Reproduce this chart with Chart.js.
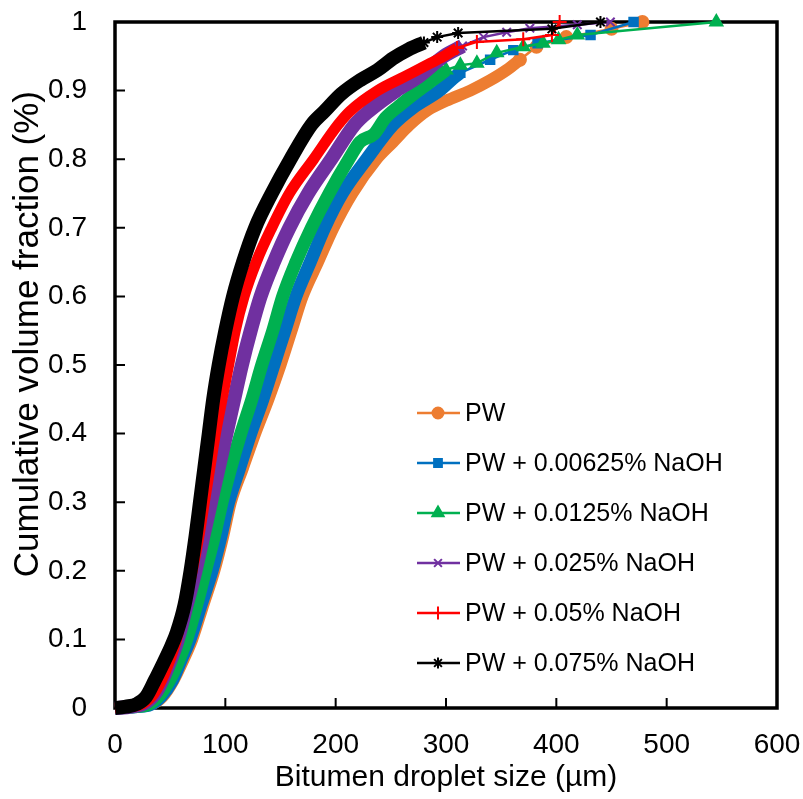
<!DOCTYPE html>
<html lang="en">
<head>
<meta charset="UTF-8">
<title>Cumulative volume fraction vs bitumen droplet size</title>
<script src="https://cdn.jsdelivr.net/npm/chart.js@4"></script>
<style>
    body { margin: 0; background: #fff; }
    #wrap { width: 803px; height: 799px; }
</style>
</head>
<body>
<div id="wrap"><canvas id="chart" width="803" height="799"></canvas></div>
<script>
// series names, in legend order
const seriesNames = ['PW', 'PW + 0.00625% NaOH', 'PW + 0.0125% NaOH', 'PW + 0.025% NaOH', 'PW + 0.05% NaOH', 'PW + 0.075% NaOH'];

// tick labels
const xTickLabels = ['0', '100', '200', '300', '400', '500', '600'];
const yTickLabels = ['0', '0.1', '0.2', '0.3', '0.4', '0.5', '0.6', '0.7', '0.8', '0.9', '1'];

// [droplet size (um), cumulative fraction]
// "band" = the dense part where markers merge, "tail" = the separate markers at the top
const pwBand = [[0,0],[20,0.002],[33,0.005],[43,0.016],[53,0.04],[62,0.07],[70,0.1],[80,0.15],[90,0.2],[98,0.25],[105,0.3],[116,0.35],[127,0.4],[139,0.45],[150,0.5],[160,0.55],[170,0.6],[184,0.65],[198,0.7],[215,0.75],[237,0.8],[252,0.825],[267,0.85],[284,0.872],[300,0.885],[322,0.9],[340,0.915],[355,0.93],[367,0.945]];
const pwTail = [[367,0.945],[382,0.964],[409,0.978],[450,0.99],[478,1]];

const naoh00625Band = [[0,0],[20,0.002],[32,0.005],[42,0.017],[52,0.04],[60,0.07],[68,0.1],[78,0.15],[88,0.2],[96,0.25],[103,0.3],[113,0.35],[123,0.4],[134,0.45],[144,0.5],[154,0.55],[164,0.6],[177,0.65],[190,0.7],[206,0.75],[228,0.8],[252,0.85],[270,0.875],[294,0.9],[308,0.92],[313,0.926]];
const naoh00625Tail = [[313,0.926],[340,0.945],[361,0.959],[383,0.969],[431,0.981],[470,1]];

const naoh0125Band = [[0,0],[20,0.002],[30,0.005],[40,0.018],[50,0.042],[58,0.07],[65,0.1],[74,0.15],[82,0.2],[90,0.25],[97,0.3],[105,0.35],[114,0.4],[124,0.45],[133,0.5],[143,0.55],[152,0.6],[164,0.65],[178,0.7],[194,0.75],[212,0.8],[222,0.825],[235,0.837],[245,0.86],[257,0.877],[275,0.9],[292,0.92],[300,0.93]];
const naoh0125Tail = [[300,0.93],[313,0.937],[328,0.94],[346,0.955],[370,0.964],[388,0.969],[402,0.974],[419,0.981],[545,1]];

const naoh025Band = [[0,0],[15,0.002],[28,0.008],[38,0.025],[48,0.06],[57,0.1],[65,0.15],[73,0.2],[80,0.25],[87,0.3],[94,0.35],[101,0.4],[108,0.45],[115,0.5],[123,0.55],[132,0.6],[144,0.65],[158,0.7],[175,0.75],[196,0.8],[217,0.85],[230,0.87],[255,0.9],[275,0.92],[298,0.95],[315,0.965]];
const naoh025Tail = [[315,0.965],[334,0.978],[355,0.985],[376,0.991],[419,0.996],[449,1]];

const naoh05Band = [[0,0],[15,0.002],[25,0.006],[35,0.02],[45,0.05],[55,0.095],[63,0.15],[70,0.2],[76,0.25],[81,0.3],[86,0.35],[91,0.4],[97,0.45],[103,0.5],[109,0.55],[117,0.6],[128,0.65],[142,0.7],[158,0.75],[180,0.8],[202,0.85],[213,0.87],[238,0.9],[262,0.92],[286,0.94],[300,0.952],[310,0.962]];
const naoh05Tail = [[310,0.962],[328,0.971],[370,0.975],[396,0.981],[403,1]];

const naoh075Band = [[0,0],[10,0.002],[20,0.006],[28,0.016],[36,0.04],[44,0.066],[51,0.09],[56,0.11],[63,0.15],[68.5,0.2],[73,0.25],[77,0.3],[81,0.35],[85,0.4],[89,0.45],[94,0.5],[100,0.55],[107,0.6],[116,0.65],[127,0.7],[142,0.75],[159,0.8],[178,0.85],[190,0.87],[205,0.895],[222,0.915],[238,0.93],[252,0.947],[266,0.96],[280,0.97]];
const naoh075Tail = [[280,0.97],[292,0.978],[311,0.984],[396,0.99],[440,1]];

const bands = [pwBand, naoh00625Band, naoh0125Band, naoh025Band, naoh05Band, naoh075Band];
const tails = [pwTail, naoh00625Tail, naoh0125Tail, naoh025Tail, naoh05Tail, naoh075Tail];

// styling
const colors = ['#ED7D31', '#0070C0', '#00B050', '#7030A0', '#FF0000', '#000000'];
const markers = ['circle', 'rect', 'triangle', 'crossRot', 'cross', 'star'];
const markerSize = [6, 6, 7, 6, 7, 6];
const bandWidth = [12, 13, 13, 14, 11, 14];
const fontFamily = "'Liberation Sans', Arial, sans-serif";

Chart.defaults.font.family = fontFamily;
Chart.defaults.color = '#000';

const toXY = arr => arr.map(p => ({ x: p[0], y: p[1] }));

const datasets = [];
seriesNames.forEach((name, i) => {
    // higher order is drawn first, so the black curve ends up on top
    datasets.push({
        label: name,
        data: toXY(bands[i]),
        borderColor: colors[i],
        borderWidth: bandWidth[i],
        borderJoinStyle: 'round',
        borderCapStyle: 'butt',
        pointRadius: 0,
        cubicInterpolationMode: 'monotone',
        clip: false,
        order: 20 - 2 * i
    });
    datasets.push({
        label: name,
        data: toXY(tails[i]),
        borderColor: colors[i],
        backgroundColor: colors[i],
        borderWidth: 2.5,
        pointStyle: markers[i],
        pointRadius: markerSize[i],
        pointBorderWidth: 2,
        tension: 0,
        clip: false,
        order: 19 - 2 * i
    });
});

// frame + inward tick marks + y axis title
const framePlugin = {
    id: 'frame',
    beforeDatasetsDraw(chart) {
        const { ctx, chartArea: a, scales: { x, y } } = chart;
        ctx.save();
        ctx.strokeStyle = '#000';
        ctx.lineWidth = 2;
        ctx.beginPath();
        x.ticks.forEach(t => {
            const px = x.getPixelForValue(t.value);
            ctx.moveTo(px, a.bottom);
            ctx.lineTo(px, a.bottom - 10);
        });
        y.ticks.forEach(t => {
            const py = y.getPixelForValue(t.value);
            ctx.moveTo(a.left, py);
            ctx.lineTo(a.left + 10, py);
        });
        ctx.stroke();
        ctx.lineWidth = 3.5;
        ctx.strokeRect(a.left, a.top, a.right - a.left, a.bottom - a.top);

        // y title sits a bit above the middle of the axis, as in the original
        ctx.translate(28, y.getPixelForValue(0.545));
        ctx.rotate(-Math.PI / 2);
        ctx.fillStyle = '#000';
        ctx.font = '35px ' + fontFamily;
        ctx.textAlign = 'center';
        ctx.textBaseline = 'middle';
        ctx.fillText('Cumulative volume fraction (%)', 0, 0);
        ctx.restore();
    }
};

// legend drawn inside the plot, lower right
const legendPlugin = {
    id: 'insideLegend',
    afterDraw(chart) {
        const { ctx, chartArea: a } = chart;
        const x0 = a.left + 302;
        const y0 = a.top + 391;
        ctx.save();
        seriesNames.forEach((name, i) => {
            const y = y0 + i * 50;
            ctx.strokeStyle = colors[i];
            ctx.fillStyle = colors[i];
            ctx.lineWidth = 2.5;
            ctx.beginPath();
            ctx.moveTo(x0, y);
            ctx.lineTo(x0 + 43, y);
            ctx.stroke();
            ctx.lineWidth = 2;
            Chart.helpers.drawPoint(ctx, { pointStyle: markers[i], radius: markerSize[i] - 0.5, rotation: 0, borderWidth: 2 }, x0 + 21, y);
            ctx.fillStyle = '#000';
            ctx.font = '25px ' + fontFamily;
            ctx.textBaseline = 'middle';
            ctx.textAlign = 'left';
            ctx.fillText(name, x0 + 48, y + 1);
        });
        ctx.restore();
    }
};

new Chart(document.getElementById('chart').getContext('2d'), {
    type: 'line',
    data: { datasets: datasets },
    options: {
        responsive: false,
        animation: false,
        devicePixelRatio: 1,
        layout: { padding: { left: 0, right: 26, top: 22, bottom: 0 } },
        plugins: {
            legend: { display: false },
            tooltip: { enabled: false }
        },
        scales: {
            x: {
                type: 'linear',
                min: 0,
                max: 600,
                grid: { display: false, drawTicks: false },
                border: { display: false },
                ticks: {
                    stepSize: 100,
                    maxRotation: 0,
                    padding: 20,
                    font: { size: 28 },
                    callback: (v, i) => xTickLabels[i]
                },
                title: {
                    display: true,
                    text: 'Bitumen droplet size (µm)',
                    font: { size: 30 },
                    padding: { top: 0, bottom: 3 }
                },
                afterFit(scale) {
                    scale.height = 91;
                    scale.paddingLeft = 0;
                    scale.paddingRight = 0;
                }
            },
            y: {
                type: 'linear',
                min: 0,
                max: 1,
                grid: { display: false, drawTicks: false },
                border: { display: false },
                ticks: {
                    stepSize: 0.1,
                    padding: 28,
                    font: { size: 28 },
                    callback: (v, i) => yTickLabels[i]
                },
                afterFit(scale) {
                    scale.width = 115;
                    scale.paddingTop = 0;
                    scale.paddingBottom = 0;
                }
            }
        }
    },
    plugins: [framePlugin, legendPlugin]
});
</script>
</body>
</html>
